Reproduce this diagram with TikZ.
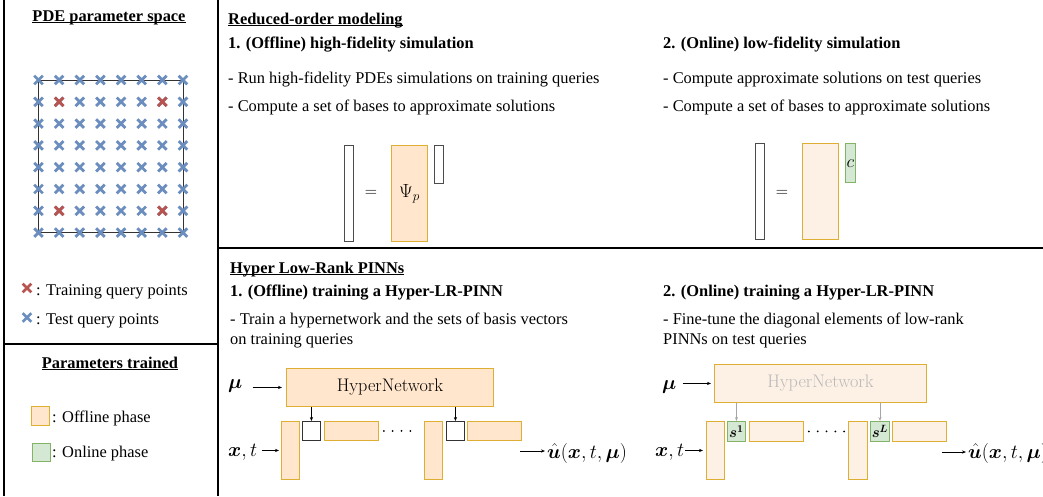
\RequirePackage{fix-cm}
\documentclass[tikz,border=0pt]{standalone}
\usepackage{amsmath}
\usepackage{bm}
\usepackage{fontspec}
\newfontfamily\tnr{Liberation Serif}
\usetikzlibrary{positioning,arrows.meta}

\definecolor{offfill}{HTML}{FFE6CC}
\definecolor{offline}{HTML}{D79B00}
\definecolor{litefill}{HTML}{FDF0E4}
\definecolor{onfill}{HTML}{D5E8D4}
\definecolor{online}{HTML}{82B366}
\definecolor{trainred}{HTML}{B85450}
\definecolor{testblue}{HTML}{6C8EBF}

\newcommand{\txtsize}{\fontsize{16.4}{19.5}\selectfont}
\newcommand{\netsize}{\fontsize{18.2}{21}\selectfont}
\newcommand{\mathsize}{\fontsize{20}{23}\selectfont}
\newcommand{\undl}[1]{\leavevmode\setbox0\hbox{#1}\rlap{\rule[-2.2pt]{\wd0}{1.2pt}}\box0}

\begin{document}
\begin{tikzpicture}[x=1pt, y=-1pt,
    txt/.style={anchor=base west, inner sep=0pt, font=\tnr\txtsize},
    head/.style={txt, font=\tnr\bfseries\txtsize},
    mth/.style={anchor=base west, inner sep=0pt, font=\mathsize},
    blk/.style={draw, anchor=north west, inner sep=0pt, line width=0.9pt},
    vecbox/.style={blk, draw=black!70, fill=white, minimum width=9pt},
    offbox/.style={blk, draw=offline!80, fill=offfill},
    litebox/.style={blk, draw=offline!80, fill=litefill},
    onbox/.style={blk, draw=online, fill=onfill},
    wbox/.style={blk, draw=black!80, fill=white, minimum width=18pt, minimum height=19pt},
    frame/.style={line width=1.3pt},
    arr/.style={-{Stealth[length=4pt,width=3.2pt]}, line width=0.7pt},
    garr/.style={-{Stealth[length=4pt,width=3.2pt,open]}, draw=black!35, line width=0.6pt},
    dotline/.style={line width=2pt, line cap=round, dash pattern=on 0pt off 8.8pt},
    qx/.style={line width=2.8pt}
  ]
  \useasboundingbox (0,0) rectangle (1043,496);

  % panel lines
  \draw[frame] (4,0) -- (4,496);
  \draw[frame] (218,0) -- (218,496);
  \draw[frame] (218,248) -- (1043,248);
  \draw[frame] (4,344) -- (218,344);

  % parameter space
  \node[head, anchor=base] (pdehead) at (109,21) {\undl{PDE parameter space}};
  \draw[black!80, line width=1pt] (38.5,80) rectangle (183,232.6);
  \foreach \i in {0,...,7}
    \foreach \j in {0,...,7} {
      \pgfmathsetmacro\px{38.5+20.64*\i}
      \pgfmathsetmacro\py{80+21.8*\j}
      \draw[qx, testblue] (\px-4.3,\py-4.3) -- (\px+4.3,\py+4.3) (\px-4.3,\py+4.3) -- (\px+4.3,\py-4.3);
    }
  \foreach \i/\j in {1/1,6/1,1/6,6/6} {
    \pgfmathsetmacro\px{38.5+20.64*\i}
    \pgfmathsetmacro\py{80+21.8*\j}
    \draw[qx, trainred] (\px-4.3,\py-4.3) -- (\px+4.3,\py+4.3) (\px-4.3,\py+4.3) -- (\px+4.3,\py-4.3);
  }
  \draw[qx, trainred] (22.7,283.7) -- (31.3,292.3) (22.7,292.3) -- (31.3,283.7);
  \draw[qx, testblue] (22.7,313.2) -- (31.3,321.8) (22.7,321.8) -- (31.3,313.2);
  \node[txt] (trainleg) at (36,295) {: Training query points};
  \node[txt] (testleg) at (36,324) {: Test query points};

  % parameters trained
  \node[head, anchor=base] (parhead) at (110,368) {\undl{Parameters trained}};
  \node[offbox, minimum width=18pt, minimum height=19pt] (lgoff) at (31,406) {};
  \node[onbox, minimum width=18pt, minimum height=18pt] (lgon) at (32,443) {};
  \node[txt] (offleg) at (52,422) {: Offline phase};
  \node[txt] (onleg) at (52,457) {: Online phase};

  % reduced-order modeling
  \node[head] (romhead) at (228,24) {\undl{Reduced-order modeling}};
  \node[head] (offhead) at (228,48) {1. (Offline) high-fidelity simulation};
  \node[txt] (offa) at (228,83) {- Run high-fidelity PDEs simulations on training queries};
  \node[txt] (offb) at (228,111) {- Compute a set of bases to approximate solutions};
  \node[head] (onhead) at (663,48) {2. (Online) low-fidelity simulation};
  \node[txt] (ona) at (663,83) {- Compute approximate solutions on test queries};
  \node[txt] (onb) at (663,111) {- Compute a set of bases to approximate solutions};

  \node[vecbox, minimum height=96pt] (v1) at (344,145) {};
  \node[mth, anchor=center, font=\fontsize{17}{20}\selectfont] (eq1) at (371,193) {$=$};
  \node[offbox, minimum width=36pt, minimum height=96pt, font=\fontsize{19}{22}\selectfont] (psi) at (391,145) {$\Psi_p$};
  \node[vecbox, minimum height=38pt] (r1) at (434,145) {};

  \node[vecbox, minimum height=96pt] (v2) at (755,143) {};
  \node[mth, anchor=center, font=\fontsize{17}{20}\selectfont] (eq2) at (782,193) {$=$};
  \node[litebox, minimum width=36pt, minimum height=96pt] (psi2) at (802,143) {};
  \node[onbox, minimum width=10pt, minimum height=39pt,
        label={[anchor=north, inner sep=0pt, yshift=-16.5pt, font=\fontsize{18}{21}\selectfont]north:$c$}] (cvec) at (845,143) {};

  % hyper low-rank pinns
  \node[head] (pinnhead) at (230,273) {\undl{Hyper Low-Rank PINNs}};
  \node[head] (trhead) at (230,296) {1. (Offline) training a Hyper-LR-PINN};
  \node[txt] (tra) at (230,324.5) {- Train a hypernetwork and the sets of basis vectors};
  \node[txt] (trb) at (230,344) {on training queries};
  \node[head] (fthead) at (663,296) {2. (Online) training a Hyper-LR-PINN};
  \node[txt] (fta) at (663,324.5) {- Fine-tune the diagonal elements of low-rank};
  \node[txt] (ftb) at (663,344) {PINNs on test queries};

  % offline network
  \node[offbox, minimum width=207pt, minimum height=38pt, font=\netsize] (hyp1) at (286,368) {HyperNetwork};
  \node[offbox, minimum width=18pt, minimum height=58pt] (t1) at (281,421) {};
  \node[wbox] (sq1) at (302,421) {};
  \node[offbox, minimum width=54pt, minimum height=19pt] (w1) at (324,421) {};
  \node[offbox, minimum width=18pt, minimum height=58pt] (t2) at (424,421) {};
  \node[wbox] (sq2) at (446,421) {};
  \node[offbox, minimum width=54pt, minimum height=19pt] (w2) at (467,421) {};
  \node[mth] (mu1) at (228,388) {$\bm{\mu}$};
  \node[mth] (xt1) at (228,456) {$\bm{x},t$};
  \node[mth] (uhat1) at (547,458) {$\bm{\hat{u}}(\bm{x},t,\bm{\mu})$};
  \coordinate (out1) at (520,451);

  \draw[arr, shorten <=10pt, shorten >=4pt] (mu1.east |- hyp1.west) -- (hyp1.west);
  \draw[arr, shorten <=5pt, shorten >=2pt] (xt1.east |- t1.west) -- (t1.west);
  \draw[arr, shorten >=2pt] (out1) -- (out1 -| uhat1.west);
  \draw[arr] (sq1.north |- hyp1.south) -- (sq1.north);
  \draw[arr] (sq2.north |- hyp1.south) -- (sq2.north);
  \draw[dotline] ([xshift=5pt]w1.east) -- ([xshift=-5pt]w1.east -| t2.west);

  % online network
  \node[litebox, minimum width=212pt, minimum height=38pt, font=\netsize, text=black!27] (hyp2) at (714,364) {HyperNetwork};
  \node[litebox, minimum width=18pt, minimum height=58pt] (t3) at (706,421) {};
  \node[onbox, minimum width=18pt, minimum height=20pt, font=\fontsize{15}{17}\selectfont] (s1) at (727,421) {$\bm{s}^{\bm{1}}$};
  \node[litebox, minimum width=54pt, minimum height=20pt] (w3) at (749,421) {};
  \node[litebox, minimum width=19pt, minimum height=58pt] (t4) at (848,421) {};
  \node[onbox, minimum width=19pt, minimum height=20pt, font=\fontsize{15}{17}\selectfont] (sL) at (870,421) {$\bm{s}^{\bm{L}}$};
  \node[litebox, minimum width=54pt, minimum height=20pt] (w4) at (892,421) {};
  \node[mth] (mu2) at (662,389) {$\bm{\mu}$};
  \node[mth] (xt2) at (655,456) {$\bm{x},t$};
  \node[mth] (uhat2) at (968,458) {$\bm{\hat{u}}(\bm{x},t,\bm{\mu})$};
  \coordinate (out2) at (942,452);

  \draw[arr, shorten <=6pt, shorten >=3pt] (mu2.east |- hyp2.west) -- (hyp2.west);
  \draw[arr, shorten <=1pt, shorten >=3pt] (xt2.east |- t3.west) -- (t3.west);
  \draw[arr, shorten >=2pt] (out2) -- (out2 -| uhat2.west);
  \draw[garr] (s1.north |- hyp2.south) -- (s1.north);
  \draw[garr] (sL.north |- hyp2.south) -- (sL.north);
  \draw[dotline] ([xshift=5pt]w3.east) -- ([xshift=-3pt]w3.east -| t4.west);

\end{tikzpicture}
\end{document}
